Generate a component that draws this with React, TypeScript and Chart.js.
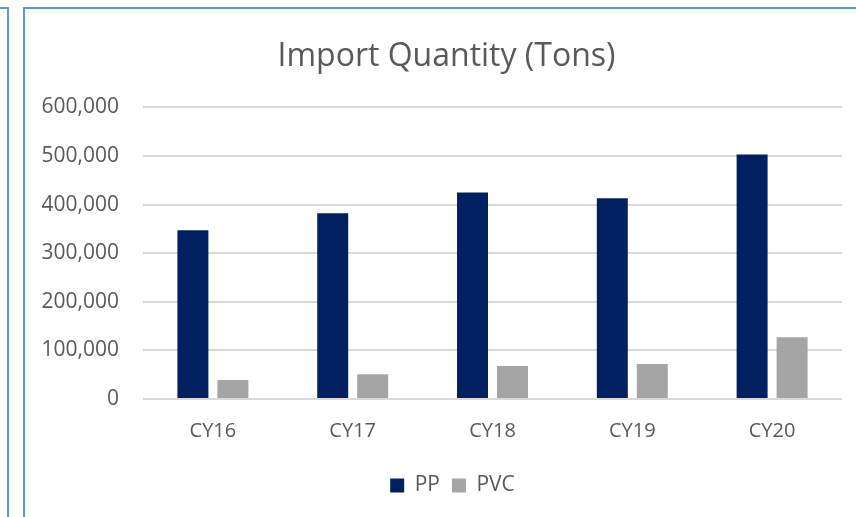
import React, { useEffect, useRef } from "react";
import { Chart, registerables } from "chart.js";

Chart.register(...registerables);

const categories = ["CY16", "CY17", "CY18", "CY19", "CY20"];
const ppValues = [347000, 382000, 425000, 413000, 503000];
const pvcValues = [39000, 51000, 68000, 72000, 127000];
const chartTitle = "Import Quantity (Tons)";

const FONT = "'Open Sans', sans-serif";
const TEXT = "#595959";

const shiftPlugin = {
  id: "shiftBlocks",
  afterLayout(chart: any) {
    if (chart.legend) { chart.legend.left += 19; chart.legend.right += 19; }
    if (chart.titleBlock) { chart.titleBlock.left += 13; chart.titleBlock.right += 13; }
  },
};

export default function App() {
  const ref = useRef<HTMLCanvasElement | null>(null);

  useEffect(() => {
    if (!ref.current) return;
    const chart = new Chart(ref.current, {
      type: "bar",
      data: {
        labels: categories,
        datasets: [
          { label: "PP", data: ppValues, backgroundColor: "#002060", categoryPercentage: 0.572, barPercentage: 0.775 },
          { label: "PVC", data: pvcValues, backgroundColor: "#A5A5A5", categoryPercentage: 0.572, barPercentage: 0.775 },
        ],
      },
      plugins: [shiftPlugin],
      options: {
        animation: false,
        responsive: false,
        maintainAspectRatio: false,
        layout: { padding: { left: 0, right: 14, top: 0, bottom: 11 } },
        plugins: {
          title: {
            display: true,
            text: chartTitle,
            color: TEXT,
            font: { family: FONT, size: 32, weight: "normal" },
            padding: { top: 29, bottom: 31 },
          },
          legend: {
            position: "bottom",
            labels: {
              color: TEXT,
              font: { family: FONT, size: 21 },
              boxWidth: 14,
              boxHeight: 14,
              padding: 12,
            },
          },
          tooltip: { enabled: false },
        },
        scales: {
          x: {
            grid: { display: false, drawTicks: false },
            border: { display: false },
            ticks: { color: TEXT, font: { family: FONT, size: 20 }, padding: 20 },
            afterFit: (s: any) => { s.height = 64; },
          },
          y: {
            min: 0,
            max: 600000,
            grid: { color: "#D9D9D9", lineWidth: 2, drawTicks: false },
            border: { display: false },
            ticks: {
              stepSize: 100000,
              color: TEXT,
              font: { family: FONT, size: 21 },
              padding: 24,
              callback: (v: any) => Number(v).toLocaleString("en-US"),
            },
            afterFit: (s: any) => { s.width = 118; },
          },
        },
      },
    });
    return () => chart.destroy();
  }, []);

  return (
    <div style={{ position: "fixed", left: 0, top: 0, width: 856, height: 517, background: "#fff", overflow: "hidden" }}>
      <div style={{ position: "absolute", left: -20, top: 7, width: 29, height: 600, border: "2px solid #5B9BD5", boxSizing: "border-box" }} />
      <div style={{ position: "absolute", left: 23, top: 7, width: 900, height: 600, border: "2px solid #5B9BD5", boxSizing: "border-box" }} />
      <canvas ref={ref} width={831} height={508} style={{ position: "absolute", left: 25, top: 9, width: 831, height: 508 }} />
    </div>
  );
}
